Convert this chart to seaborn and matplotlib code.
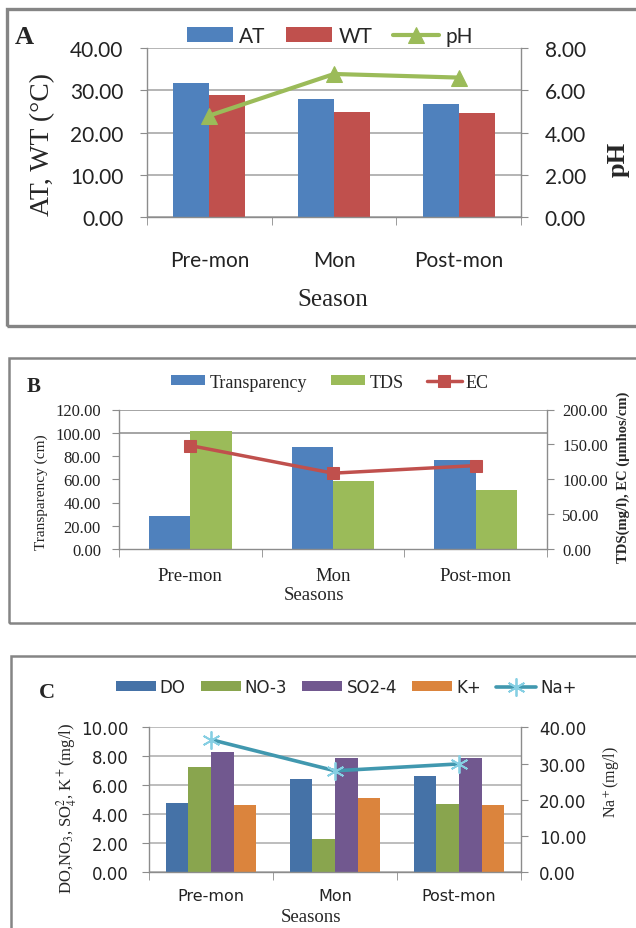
import numpy as np
import pandas as pd
import seaborn as sns
import matplotlib.pyplot as plt
from matplotlib.patches import Rectangle
from matplotlib.ticker import FormatStrFormatter

seasons = ["Pre-mon", "Mon", "Post-mon"]

# panel A: temperature and pH
at_temp = [31.6, 27.9, 26.7]
wt_temp = [28.9, 24.9, 24.6]
ph_vals = [4.8, 6.77, 6.6]

# panel B: transparency, TDS, EC
transparency = [28.6, 87.6, 76.9]
tds = [101.4, 58.3, 50.8]
ec = [148.3, 108.7, 119.6]

# panel C: ions
do_vals = [4.76, 6.43, 6.67]
no3_vals = [7.24, 2.30, 4.71]
so4_vals = [8.28, 7.89, 7.89]
k_vals = [4.64, 5.10, 4.66]
na_vals = [36.6, 28.0, 29.9]

W, H = 636, 929
SERIF = "Liberation Serif"
AXC = "#8c8c8c"


def fx(px):
    return px / W


def fy(py):
    return 1 - py / H


sns.set_style("white")
plt.rcParams["mathtext.fontset"] = "stix"

fig = plt.figure(figsize=(W / 100, H / 100), dpi=100)


def bar_line_panel(box, bar_series, colors, group_width, line_name, line_vals, line_kw,
                   left_ticks, right_ticks, font, size, xsize, pads, grid_color, grid_from=None):
    l, t, r, b = box
    ax = fig.add_axes([fx(l), fy(b), (r - l) / W, (b - t) / H])
    names = list(bar_series.keys())
    df = pd.DataFrame({
        "season": np.tile(seasons, len(names)),
        "var": np.repeat(names, len(seasons)),
        "value": np.concatenate([bar_series[n] for n in names]),
    })
    sns.barplot(data=df, x="season", y="value", hue="var", palette=colors,
                width=group_width, saturation=1, errorbar=None, linewidth=0, ax=ax)
    leg = ax.get_legend()
    handles = list(leg.legend_handles)
    labels = [tx.get_text() for tx in leg.texts]
    leg.remove()

    ax2 = ax.twinx()
    sns.lineplot(x=np.arange(len(seasons)), y=line_vals, ax=ax2, label=line_name, **line_kw)
    if ax2.get_legend() is not None:
        ax2.get_legend().remove()
    lh, ll = ax2.get_legend_handles_labels()

    ax.set_xlim(-0.5, len(seasons) - 0.5)
    ax.set_ylim(left_ticks[0], left_ticks[-1])
    ax.set_yticks(left_ticks)
    ax2.set_ylim(right_ticks[0], right_ticks[-1])
    ax2.set_yticks(right_ticks)
    ax.yaxis.set_major_formatter(FormatStrFormatter("%.2f"))
    ax2.yaxis.set_major_formatter(FormatStrFormatter("%.2f"))
    ax.set_xlabel("")
    ax.set_ylabel("")
    ax2.set_ylabel("")

    ax.set_axisbelow(True)
    gl = left_ticks if grid_from is None else [v for v in left_ticks if v >= grid_from]
    for v in gl:
        ax.axhline(v, color=grid_color, lw=1.1, zorder=0)

    for s in ["top", "right"]:
        ax.spines[s].set_visible(False)
    for s in ["top", "left", "bottom"]:
        ax2.spines[s].set_visible(False)
    for sp in [ax.spines["left"], ax.spines["bottom"], ax2.spines["right"]]:
        sp.set_color(AXC)
        sp.set_linewidth(1)

    ax.set_xticks(np.arange(len(seasons) + 1) - 0.5, minor=True)
    ax.tick_params(axis="x", which="major", length=0, pad=pads[0],
                   labelsize=xsize, labelfontfamily=font, labelcolor="#222222")
    ax.tick_params(axis="x", which="minor", length=6, color=AXC, direction="out", bottom=True)
    ax.tick_params(axis="y", length=5, color=AXC, direction="out", left=True, pad=pads[1],
                   labelsize=size, labelfontfamily=font, labelcolor="#222222")
    ax2.tick_params(axis="y", length=5, color=AXC, direction="out", right=True, pad=pads[2],
                    labelsize=size, labelfontfamily=font, labelcolor="#222222")
    return ax, handles + lh, labels + ll


# ---- panel A ----
axA, hA, lA = bar_line_panel(
    (147, 49, 521, 218), {"AT": at_temp, "WT": wt_temp}, ["#4F81BD", "#C0504D"], 0.58,
    "pH", ph_vals,
    dict(color="#9BBB59", linewidth=3, marker="^", markersize=12,
         markerfacecolor="#9BBB59", markeredgecolor="#9BBB59"),
    np.arange(0, 40.1, 10), np.arange(0, 8.1, 2), "Lato", 15, 15, (24, 12, 12), "#a0a0a0")
fig.legend(hA, lA, loc="center", bbox_to_anchor=(fx(330), fy(37)), ncol=3, frameon=False,
           prop={"family": "Lato", "size": 15}, handlelength=2.2, handleheight=0.7,
           handletextpad=0.3, columnspacing=1.0, borderaxespad=0, borderpad=0)
fig.text(fx(24), fy(37), "A", fontfamily=SERIF, fontweight="bold", fontsize=19, ha="center", va="center")
fig.text(fx(43), fy(145), "AT, WT (°C)", fontfamily=SERIF, fontsize=20, rotation=90, ha="center", va="center")
fig.text(fx(618), fy(159), "pH", fontfamily=SERIF, fontweight="bold", fontsize=19, rotation=90, ha="center", va="center")
fig.text(fx(333), fy(300), "Season", fontfamily=SERIF, fontsize=18, ha="center", va="center")

# ---- panel B ----
axB, hB, lB = bar_line_panel(
    (119, 410.5, 547, 550), {"Transparency": transparency, "TDS": tds}, ["#4F81BD", "#9BBB59"], 0.58,
    "EC", ec,
    dict(color="#C0504D", linewidth=2.5, marker="s", markersize=8,
         markerfacecolor="#C0504D", markeredgecolor="#C0504D"),
    np.arange(0, 120.1, 20), np.arange(0, 200.1, 50), SERIF, 12, 13.5, (13, 8, 6), "#8c8c8c", grid_from=100)
fig.legend(hB, lB, loc="center", bbox_to_anchor=(fx(330), fy(383)), ncol=3, frameon=False,
           prop={"family": SERIF, "size": 13}, handlelength=1.9, handleheight=0.45,
           handletextpad=0.25, columnspacing=1.3, borderaxespad=0, borderpad=0)
fig.text(fx(34), fy(387), "B", fontfamily=SERIF, fontweight="bold", fontsize=15, ha="center", va="center")
fig.text(fx(41), fy(492), "Transparency (cm)", fontfamily=SERIF, fontsize=11, rotation=90, ha="center", va="center")
fig.text(fx(623), fy(477), "TDS(mg/l), EC (µmhos/cm)", fontfamily=SERIF, fontweight="bold", fontsize=10.5,
         rotation=90, ha="center", va="center")
fig.text(fx(314), fy(596), "Seasons", fontfamily=SERIF, fontsize=13.5, ha="center", va="center")

# ---- panel C ----
axC, hC, lC = bar_line_panel(
    (149, 728.3, 521, 873.3),
    {"DO": do_vals, "NO-3": no3_vals, "SO2-4": so4_vals, "K+": k_vals},
    ["#4572A7", "#89A54E", "#71588F", "#DB843D"], 0.73,
    "Na+", na_vals,
    dict(color="#4198AF", linewidth=2.6, marker=(6, 2, 0), markersize=13,
         markeredgecolor="#86cfe3", markeredgewidth=1.3),
    np.arange(0, 10.1, 2), np.arange(0, 40.1, 10), "DejaVu Sans", 12, 11.5, (11, 10, 8), "#ababab")
fig.legend(hC, lC, loc="center", bbox_to_anchor=(fx(346), fy(688)), ncol=5, frameon=False,
           prop={"family": "DejaVu Sans", "size": 12}, handlelength=2.4, handleheight=0.56,
           handletextpad=0.25, columnspacing=0.9, borderaxespad=0, borderpad=0)
fig.text(fx(47), fy(693), "C", fontfamily=SERIF, fontweight="bold", fontsize=16, ha="center", va="center")
fig.text(fx(67), fy(808), r"DO,NO$_3$, SO$_4^2$, K$^+$(mg/l)", fontfamily=SERIF, fontsize=12,
         rotation=90, ha="center", va="center")
fig.text(fx(611), fy(782), r"Na$^+$(mg/l)", fontfamily=SERIF, fontsize=11.5, rotation=90, ha="center", va="center")
fig.text(fx(311), fy(918), "Seasons", fontfamily=SERIF, fontsize=13.5, ha="center", va="center")

# panel frames
for (x0, y0, y1, lw) in [(7, 10, 327, 2.4), (9, 359, 624, 1.8), (11, 657, 960, 1.8)]:
    fig.add_artist(Rectangle((fx(x0), fy(y1)), (660 - x0) / W, (y1 - y0) / H,
                             transform=fig.transFigure, fill=False, edgecolor="#858585", lw=lw))

fig.savefig("out.png", dpi=100)
